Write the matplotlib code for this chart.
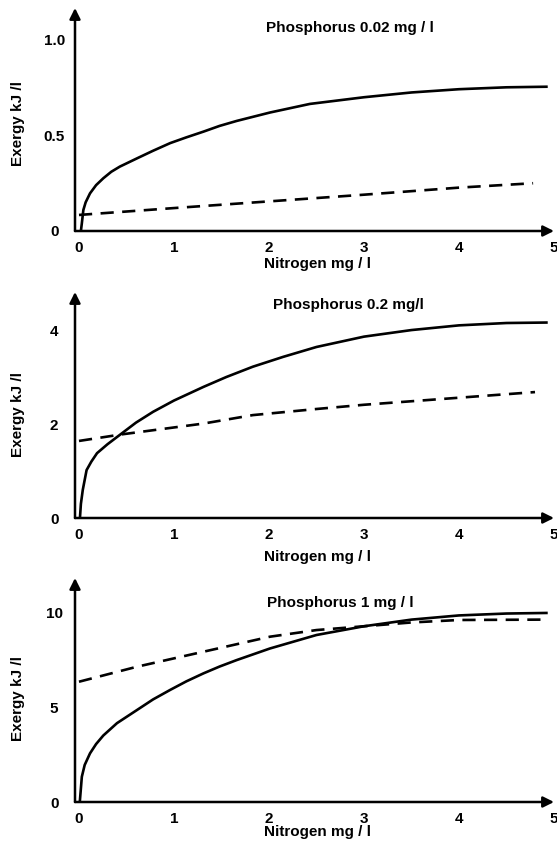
import matplotlib
matplotlib.use("Agg")
import matplotlib.pyplot as plt

plt.rcParams["font.family"] = ["Liberation Sans", "DejaVu Sans"]
plt.rcParams["font.weight"] = "bold"

# Phosphorus 0.02 mg/l
p1_solid_x = [0.02, 0.03, 0.046, 0.07, 0.116, 0.18, 0.256, 0.34, 0.43, 0.61, 0.78, 0.96, 1.13,
              1.31, 1.48, 1.66, 2.01, 2.43, 3.0, 3.5, 4.0, 4.5, 4.92]
p1_solid_y = [0.0, 0.04, 0.11, 0.15, 0.197, 0.24, 0.276, 0.31, 0.337, 0.38, 0.42, 0.46, 0.49,
              0.52, 0.55, 0.576, 0.62, 0.665, 0.70, 0.725, 0.742, 0.752, 0.755]
p1_dash_x = [0.0, 1.0, 2.0, 2.43, 3.0, 4.0, 4.78]
p1_dash_y = [0.084, 0.12, 0.155, 0.17, 0.19, 0.227, 0.25]

# Phosphorus 0.2 mg/l
p2_solid_x = [0.01, 0.02, 0.04, 0.08, 0.13, 0.19, 0.3, 0.45, 0.6, 0.78, 1.0, 1.31, 1.55, 1.83,
              2.15, 2.5, 3.0, 3.5, 4.0, 4.5, 4.92]
p2_solid_y = [0.0, 0.3, 0.6, 1.02, 1.2, 1.38, 1.57, 1.80, 2.03, 2.26, 2.5, 2.79, 3.0, 3.22,
              3.43, 3.64, 3.86, 4.0, 4.1, 4.15, 4.16]
p2_dash_x = [0.0, 0.45, 1.31, 1.83, 2.5, 3.0, 4.0, 4.8]
p2_dash_y = [1.64, 1.78, 2.01, 2.19, 2.32, 2.41, 2.56, 2.68]

# Phosphorus 1 mg/l
p3_solid_x = [0.01, 0.03, 0.06, 0.116, 0.18, 0.256, 0.4, 0.61, 0.78, 0.96, 1.13, 1.31, 1.48,
              1.66, 2.01, 2.5, 3.0, 3.5, 4.0, 4.5, 4.92]
p3_solid_y = [0.1, 1.33, 1.95, 2.56, 3.05, 3.5, 4.15, 4.84, 5.4, 5.9, 6.35, 6.77, 7.13,
              7.47, 8.08, 8.79, 9.25, 9.6, 9.82, 9.92, 9.95]
p3_dash_x = [0.0, 0.61, 1.31, 2.01, 2.5, 3.0, 3.5, 4.0, 4.9]
p3_dash_y = [6.33, 7.12, 7.91, 8.7, 9.05, 9.25, 9.45, 9.58, 9.6]

x_ticks = [0, 1, 2, 3, 4, 5]
titles = ["Phosphorus 0.02 mg / l", "Phosphorus 0.2 mg/l", "Phosphorus 1 mg / l"]
y_ticks = [[0, 0.5, 1.0], [0, 2, 4], [0, 5, 10]]
y_ticklabels = [["0", "0.5", "1.0"], ["0", "2", "4"], ["0", "5", "10"]]
y_tops = [1.167, 4.81, 11.79]

W, H = 557, 843
# pixel layout: (x-axis row, top of arrow)
rows = [(231, 8), (518, 292), (802, 578)]
title_pos = [(0.574, 0.91), (0.571, 0.942), (0.553, 0.888)]
ylabel_y = [0.48, 0.456, 0.464]
xlabel_top = [257, 550, 825]

fig = plt.figure(figsize=(W / 100, H / 100), dpi=100)

series = [
    (p1_solid_x, p1_solid_y, p1_dash_x, p1_dash_y),
    (p2_solid_x, p2_solid_y, p2_dash_x, p2_dash_y),
    (p3_solid_x, p3_solid_y, p3_dash_x, p3_dash_y),
]

left_px, right_px = 75, 554
for i, (sx, sy, dx, dy) in enumerate(series):
    base, top = rows[i]
    ax = fig.add_axes([left_px / W, (H - base) / H, (right_px - left_px) / W, (base - top) / H])
    ax.plot(sx, sy, color="black", lw=1.9, solid_joinstyle="round")
    ax.plot(dx, dy, color="black", lw=1.9, dashes=(5.0, 3.2))
    ax.set_xlim(-0.042, 5.0)
    ax.set_ylim(0, y_tops[i])
    for s in ax.spines.values():
        s.set_visible(False)
    ax.annotate("", xy=(1.0, 0), xytext=(0, 0), xycoords="axes fraction",
                arrowprops=dict(arrowstyle="-|>", color="black", lw=1.8,
                                mutation_scale=16, shrinkA=0, shrinkB=0))
    ax.annotate("", xy=(0, 1.0), xytext=(0, 0), xycoords="axes fraction",
                arrowprops=dict(arrowstyle="-|>", color="black", lw=1.8,
                                mutation_scale=16, shrinkA=0, shrinkB=0))
    ax.set_xticks(x_ticks)
    ax.set_xticklabels([str(t) for t in x_ticks], fontsize=11, fontweight="bold")
    ax.set_yticks(y_ticks[i])
    ax.set_yticklabels(y_ticklabels[i], fontsize=11, fontweight="bold", ha="center")
    ax.tick_params(axis="x", length=0, pad=7)
    ax.tick_params(axis="y", length=0, pad=15)
    ax.set_xlabel("Nitrogen mg / l", fontsize=11, fontweight="bold")
    ax.xaxis.set_label_coords((318 - left_px) / (right_px - left_px),
                              (base - xlabel_top[i]) / (base - top))
    ax.set_ylabel("Exergy kJ /l", fontsize=11, fontweight="bold")
    ax.yaxis.set_label_coords((18 - left_px) / (right_px - left_px), ylabel_y[i])
    ax.yaxis.label.set_va("center")
    ax.text(title_pos[i][0], title_pos[i][1], titles[i], transform=ax.transAxes,
            ha="center", va="center", fontsize=11, fontweight="bold")
    ax.patch.set_visible(False)

fig.savefig("out.png", dpi=100)
